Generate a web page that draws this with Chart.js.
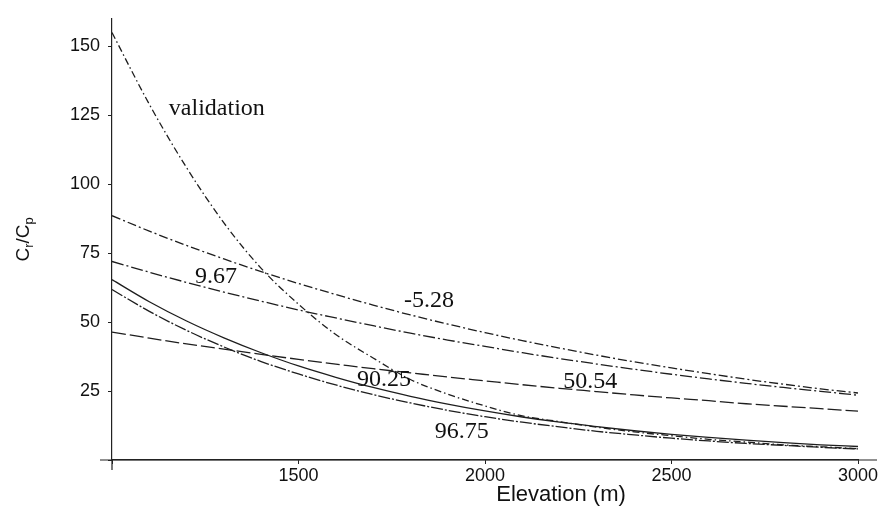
<!DOCTYPE html>
<html>
<head>
<meta charset="utf-8">
<script src="https://cdn.jsdelivr.net/npm/chart.js@4/dist/chart.umd.min.js"></script>
<style>
  body { margin: 0; background: #fff; }
  #wrap { width: 883px; height: 516px; }
</style>
</head>
<body>
<div id="wrap"><canvas id="chart" width="883" height="516"></canvas></div>
<script>
// Elevation (m) sample points
const elevation = [1000, 1100, 1200, 1300, 1400, 1500, 1600, 1700, 1800, 1900, 2000,
                   2100, 2200, 2300, 2400, 2500, 2600, 2700, 2800, 2900, 3000];

// Cr/Cp curves
const validation = [155, 129, 106, 86, 69.5, 56.5, 45.5, 37, 29.2, 23.9, 19.6,
                    16, 13.9, 11.9, 10.2, 8.8, 7.5, 6.5, 5.5, 4.8, 4.1];
const curveM528 = [88.6, 83, 77.8, 72.9, 68.3, 64, 60, 56.2, 52.6, 49.3, 46.2,
                   43.3, 40.6, 38, 35.6, 33.4, 31.3, 29.3, 27.5, 25.8, 24.3];
const curve967 = [72, 68.1, 64.4, 60.9, 57.6, 54.4, 51.5, 48.7, 46, 43.5, 41.2,
                  38.9, 36.8, 34.8, 32.9, 31.1, 29.4, 27.8, 26.3, 24.9, 23.5];
const curve5054 = [46.4, 44.2, 42.1, 40.2, 38.3, 36.5, 34.8, 33.1, 31.6, 30.1, 28.7,
                   27.3, 26, 24.8, 23.6, 22.5, 21.5, 20.4, 19.5, 18.6, 17.7];
const curve9025 = [65.4, 57.4, 50.4, 44.3, 38.9, 34.1, 30, 26.3, 23.1, 20.3, 17.8,
                   15.6, 13.7, 12.1, 10.6, 9.3, 8.2, 7.2, 6.3, 5.5, 4.9];
const curve9675 = [61.8, 53.9, 47, 41, 35.7, 31.2, 27.2, 23.7, 20.7, 18, 15.7,
                   13.7, 12, 10.4, 9.1, 7.9, 6.9, 6, 5.3, 4.6, 4.0];

// In-plot curve labels (data coordinates, baseline)
const curveLabelText = ['validation', '9.67', '-5.28', '90.25', '50.54', '96.75'];
const curveLabelX = [1281, 1279, 1850, 1729, 2282, 1938];
const curveLabelY = [125, 64.3, 55.4, 26.8, 26.1, 7.9];

const xTicks = [1500, 2000, 2500, 3000];
const yTicks = [25, 50, 75, 100, 125, 150];

const toPoints = arr => arr.map((v, i) => ({ x: elevation[i], y: v }));

function lineSet(label, values, dash) {
  return {
    label,
    data: toPoints(values),
    borderColor: '#1e1e1e',
    borderWidth: 1.3,
    borderDash: dash,
    pointRadius: 0,
    fill: false,
    cubicInterpolationMode: 'monotone'
  };
}

// Axis lines run a little past the plot corner, as in the original
const axisOverhang = {
  id: 'axisOverhang',
  beforeDatasetsDraw(chart) {
    const { ctx, chartArea: a } = chart;
    ctx.save();
    ctx.strokeStyle = '#222';
    ctx.lineWidth = 1.2;
    ctx.beginPath();
    ctx.moveTo(a.left - 12, a.bottom);
    ctx.lineTo(a.right + 19, a.bottom);
    ctx.moveTo(a.left, a.bottom);
    ctx.lineTo(a.left, a.bottom + 10);
    ctx.stroke();
    ctx.restore();
  }
};

// Texts drawn on top: curve labels and the two axis titles
const annotations = {
  id: 'annotations',
  afterDatasetsDraw(chart) {
    const ctx = chart.ctx;
    const xs = chart.scales.x, ys = chart.scales.y;
    ctx.save();
    ctx.fillStyle = '#111';
    ctx.textAlign = 'center';
    ctx.textBaseline = 'alphabetic';
    ctx.font = '24px "Liberation Serif", "Times New Roman", serif';
    curveLabelText.forEach((t, i) => {
      ctx.fillText(t, xs.getPixelForValue(curveLabelX[i]), ys.getPixelForValue(curveLabelY[i]));
    });

    // x axis title
    ctx.font = '22px "Liberation Sans", Arial, sans-serif';
    ctx.fillText('Elevation (m)', 561, 501);

    // y axis title Cr/Cp with subscripts
    const big = '19px "Liberation Sans", Arial, sans-serif';
    const small = '13px "Liberation Sans", Arial, sans-serif';
    const parts = [['C', big, 0], ['r', small, 4], ['/C', big, 0], ['p', small, 4]];
    let w = 0;
    parts.forEach(p => { ctx.font = p[1]; w += ctx.measureText(p[0]).width; });
    ctx.translate(29, (ys.top + ys.bottom) / 2);
    ctx.rotate(-Math.PI / 2);
    ctx.textAlign = 'left';
    let cx = -w / 2;
    parts.forEach(p => {
      ctx.font = p[1];
      ctx.fillText(p[0], cx, p[2]);
      cx += ctx.measureText(p[0]).width;
    });
    ctx.restore();
  }
};

new Chart(document.getElementById('chart'), {
  type: 'line',
  data: {
    datasets: [
      lineSet('validation', validation, [7, 3, 1.5, 3]),
      lineSet('-5.28', curveM528, [9, 3, 2, 3]),
      lineSet('9.67', curve967, [12, 3, 2, 3]),
      lineSet('50.54', curve5054, [14, 4]),
      lineSet('90.25', curve9025, []),
      lineSet('96.75', curve9675, [12, 2, 2, 2])
    ]
  },
  options: {
    responsive: false,
    animation: false,
    layout: { padding: { top: 12, right: 25, left: 0, bottom: 0 } },
    plugins: {
      legend: { display: false },
      tooltip: { enabled: false },
      title: { display: false }
    },
    scales: {
      x: {
        type: 'linear',
        min: 1000, max: 3000,
        afterFit: s => { s.height = 56; },
        afterBuildTicks: s => { s.ticks = [1000].concat(xTicks).map(v => ({ value: v })); },
        grid: { drawOnChartArea: false, tickLength: 4, color: '#222' },
        border: { color: '#222', width: 1.2 },
        ticks: {
          padding: 1,
          color: '#111',
          font: { family: '"Liberation Sans", Arial, sans-serif', size: 18 },
          maxRotation: 0,
          callback: v => xTicks.includes(v) ? String(v) : ''
        }
      },
      y: {
        min: 0, max: 160,
        afterFit: s => { s.width = 112; },
        afterBuildTicks: s => { s.ticks = [0].concat(yTicks).map(v => ({ value: v })); },
        grid: { drawOnChartArea: false, tickLength: 4, color: '#222' },
        border: { color: '#222', width: 1.2 },
        ticks: {
          padding: 8,
          color: '#111',
          font: { family: '"Liberation Sans", Arial, sans-serif', size: 18 },
          callback: v => yTicks.includes(v) ? String(v) : ''
        }
      }
    }
  },
  plugins: [axisOverhang, annotations]
});
</script>
</body>
</html>
